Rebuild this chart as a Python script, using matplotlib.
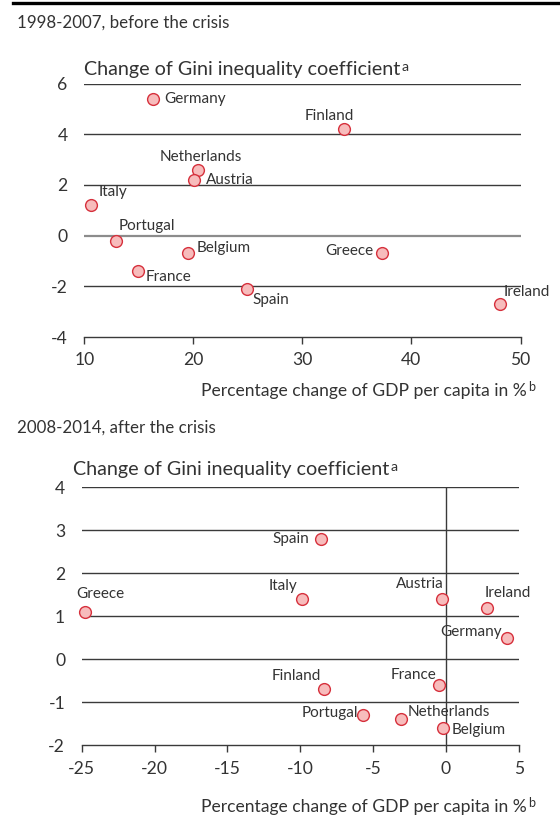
import matplotlib
matplotlib.use("Agg")
import matplotlib.pyplot as plt

plt.rcParams['font.family'] = ['Lato', 'DejaVu Sans']
plt.rcParams['axes.unicode_minus'] = False

# ---- data ----
countries_pre = ["Germany", "Finland", "Netherlands", "Austria", "Italy", "Portugal",
                 "Belgium", "Greece", "France", "Spain", "Ireland"]
gdp_pre = [16.3, 33.8, 20.4, 20.1, 10.6, 12.9, 19.5, 37.3, 14.9, 24.9, 48.1]
gini_pre = [5.4, 4.2, 2.6, 2.2, 1.2, -0.2, -0.7, -0.7, -1.4, -2.1, -2.7]

countries_post = ["Spain", "Greece", "Italy", "Austria", "Ireland", "Germany",
                  "Finland", "France", "Portugal", "Netherlands", "Belgium"]
gdp_post = [-8.6, -24.8, -9.9, -0.3, 2.8, 4.2, -8.4, -0.5, -5.7, -3.1, -0.2]
gini_post = [2.8, 1.1, 1.4, 1.4, 1.2, 0.5, -0.7, -0.6, -1.3, -1.4, -1.6]

xticks_pre = [10, 20, 30, 40, 50]
yticks_pre = [-4, -2, 0, 2, 4, 6]
xticks_post = [-25, -20, -15, -10, -5, 0, 5]
yticks_post = [-2, -1, 0, 1, 2, 3, 4]

title_pre = "1998-2007, before the crisis"
title_post = "2008-2014, after the crisis"
ylabel = "Change of Gini inequality coefficient"
xlabel = "Percentage change of GDP per capita in %"

# label placement (dx, dy in pixels, ha)
lab_pre = {
    "Germany": (11, 0, "left"), "Finland": (-15, 13.6, "center"),
    "Netherlands": (3, 13, "center"), "Austria": (12, 0, "left"),
    "Italy": (7.5, 13, "left"), "Portugal": (2.5, 15, "left"),
    "Belgium": (9, 5.6, "left"), "Greece": (-9, 2, "right"),
    "France": (7.5, -6, "left"), "Spain": (5.5, -11, "left"),
    "Ireland": (3.6, 11.6, "left"),
}
lab_post = {
    "Spain": (-11.5, 0, "right"), "Greece": (-8, 17.7, "left"),
    "Italy": (-4, 13, "right"), "Austria": (2, 15.3, "right"),
    "Ireland": (-1.7, 14.3, "left"), "Germany": (-5.5, 6, "right"),
    "Finland": (-3, 13.3, "right"), "France": (-2, 10, "right"),
    "Portugal": (-5, 1.7, "right"), "Netherlands": (7, 7.3, "left"),
    "Belgium": (9, -1.7, "left"),
}

W, H = 560, 817
TXT = "#333333"
GRID = "#3a3a3a"
FACE = "#f7bcbc"
EDGE = "#d6303c"
FS_TITLE = 12.2
FS_YLAB = 14.2
FS_XLAB = 12.6
FS_TICK = 12.6
FS_PT = 11.0

fig = plt.figure(figsize=(W / 100, H / 100), dpi=100)


def px_axes(x0, x1, ytop, ybot):
    return fig.add_axes([x0 / W, 1 - ybot / H, (x1 - x0) / W, (ybot - ytop) / H])


def fx(x):
    return x / W


def fy(y):
    return 1 - y / H


# top rule
fig.add_artist(plt.Line2D([fx(13), fx(560)], [fy(3), fy(3)], color="black", lw=2.4))


def panel(ax, xs, ys, names, labs, xt, yt, xlim, ylim, zero_gray, vline):
    ax.set_xlim(*xlim)
    ax.set_ylim(*ylim)
    for s in ["top", "right", "left"]:
        ax.spines[s].set_visible(False)
    ax.spines["bottom"].set_color(GRID)
    ax.spines["bottom"].set_linewidth(1.0)
    for v in yt[1:]:
        if v == 0 and zero_gray:
            ax.axhline(v, color="#8c8c8c", lw=1.6, zorder=1)
        else:
            ax.axhline(v, color=GRID, lw=1.0, zorder=1)
    if vline:
        ax.axvline(0, color=GRID, lw=1.0, zorder=1)
    ax.set_xticks(xt)
    ax.set_xticklabels([str(v) for v in xt])
    ax.set_yticks(yt)
    ax.set_yticklabels([str(v) for v in yt])
    ax.tick_params(axis="y", length=0, pad=12, labelsize=FS_TICK, labelcolor=TXT)
    ax.tick_params(axis="x", length=5, width=1.0, color=GRID, pad=6, labelsize=FS_TICK,
                   labelcolor=TXT, direction="out")
    ax.scatter(xs, ys, s=72, facecolor=FACE, edgecolor=EDGE, linewidth=1.0,
               zorder=3, clip_on=False)
    for x, y, n in zip(xs, ys, names):
        dx, dy, ha = labs[n]
        ax.annotate(n, (x, y), xytext=(dx, dy), textcoords="offset pixels",
                    ha=ha, va="center", fontsize=FS_PT, color=TXT, zorder=4)


ax1 = px_axes(84.3, 520.5, 83.5, 337)
panel(ax1, gdp_pre, gini_pre, countries_pre, lab_pre, xticks_pre, yticks_pre,
      (10, 50), (-4, 6), True, False)

ax2 = px_axes(81.8, 518.7, 487.3, 745.3)
panel(ax2, gdp_post, gini_post, countries_post, lab_post, xticks_post, yticks_post,
      (-25, 5), (-2, 4), False, True)

fig.canvas.draw()
rend = fig.canvas.get_renderer()


def sup_after(t, letter, size, dy_px=4):
    bb = t.get_window_extent(renderer=rend)
    fig.text((bb.x1 + 1.5) / W, (bb.y0 + bb.y1) / 2 / H + dy_px / H, letter,
             fontsize=size, color=TXT, ha="left", va="center")


# titles
fig.text(fx(17), fy(23), title_pre, fontsize=FS_TITLE, color=TXT, ha="left", va="center")
fig.text(fx(17), fy(428), title_post, fontsize=FS_TITLE, color=TXT, ha="left", va="center")

# y labels
t = fig.text(fx(83.6), fy(70), ylabel, fontsize=FS_YLAB, color=TXT, ha="left", va="center")
sup_after(t, "a", FS_YLAB - 4, 3)
t = fig.text(fx(73), fy(470), ylabel, fontsize=FS_YLAB, color=TXT, ha="left", va="center")
sup_after(t, "a", FS_YLAB - 4, 3)

# x labels
t = fig.text(fx(527), fy(391), xlabel, fontsize=FS_XLAB, color=TXT, ha="right", va="center")
sup_after(t, "b", FS_XLAB - 3.5, 4)
t = fig.text(fx(527), fy(806.7), xlabel, fontsize=FS_XLAB, color=TXT, ha="right", va="center")
sup_after(t, "b", FS_XLAB - 3.5, 4)

fig.savefig("out.png", dpi=100)
